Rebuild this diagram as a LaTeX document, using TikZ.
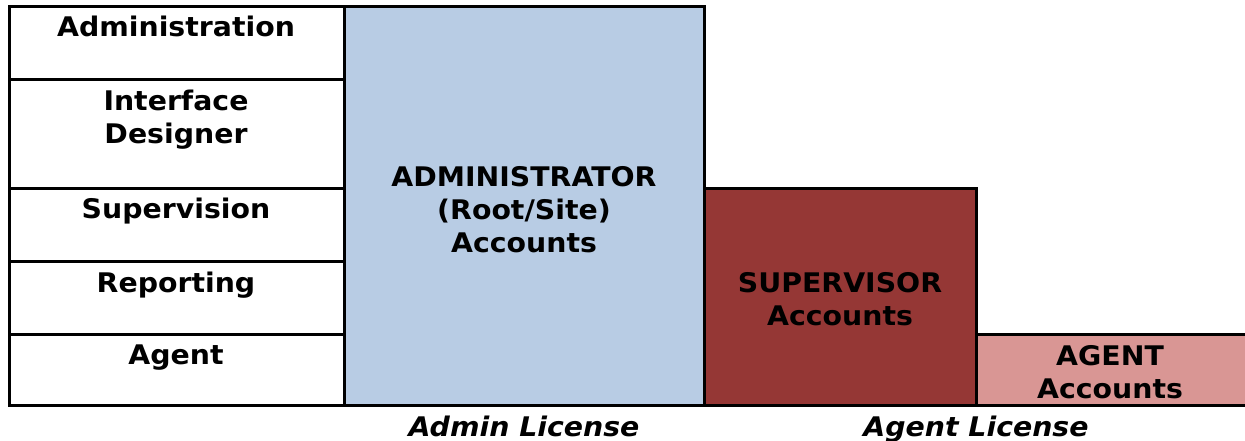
\documentclass[tikz,border=0pt]{standalone}
\usepackage{fontspec}
\setmainfont[FakeStretch=1.05]{DejaVu Sans}
\definecolor{adminblue}{HTML}{B8CCE4}
\definecolor{supred}{HTML}{953735}
\definecolor{agentpink}{HTML}{D99694}
\begin{document}
\begin{tikzpicture}[x=1pt,y=-1pt,
  box/.style={draw=black, line width=3pt},
  lbl/.style={font=\bfseries\fontsize{27}{33}\selectfont, anchor=base, inner sep=0pt},
  lic/.style={font=\bfseries\itshape\fontsize{27}{33}\selectfont, anchor=base, inner sep=0pt}]
\useasboundingbox (0,0) rectangle (1245,441);
\begin{scope}
\clip (0,0) rectangle (1245,441);
% license boxes
\path[box, fill=agentpink] (976,334) rectangle (1260,405);
\path[box, fill=supred] (704,188) rectangle (976,405);
\path[box, fill=adminblue] (344,7) rectangle (704,405);
% left table
\path[box] (9,7) rectangle (344,405);
\draw[box] (9,80) -- (344,80);
\draw[box] (9,188) -- (344,188);
\draw[box] (9,261) -- (344,261);
\draw[box] (9,334) -- (344,334);
\draw[box] (9,405) -- (1260,405);
\end{scope}
% left labels
\node[lbl] (adm) at (176,37) {Administration};
\node[lbl] (ifd) at (176,111) {\begin{tabular}[t]{@{}c@{}}Interface\\Designer\end{tabular}};
\node[lbl] (sup) at (176,218) {Supervision};
\node[lbl] (rep) at (176,292) {Reporting};
\node[lbl] (agt) at (176,364) {Agent};
% account labels
\node[lbl] (admacc) at (524,186) {\begin{tabular}[t]{@{}c@{}}ADMINISTRATOR\\(Root/Site)\\Accounts\end{tabular}};
\node[lbl] (supacc) at (840,292) {\begin{tabular}[t]{@{}c@{}}SUPERVISOR\\Accounts\end{tabular}};
\node[lbl] (agtacc) at (1110,365) {\begin{tabular}[t]{@{}c@{}}AGENT\\Accounts\end{tabular}};
% license labels
\node[lic] (adminlic) at (524,436) {Admin License};
\node[lic] (agentlic) at (976,436) {Agent License};
\end{tikzpicture}
\end{document}
